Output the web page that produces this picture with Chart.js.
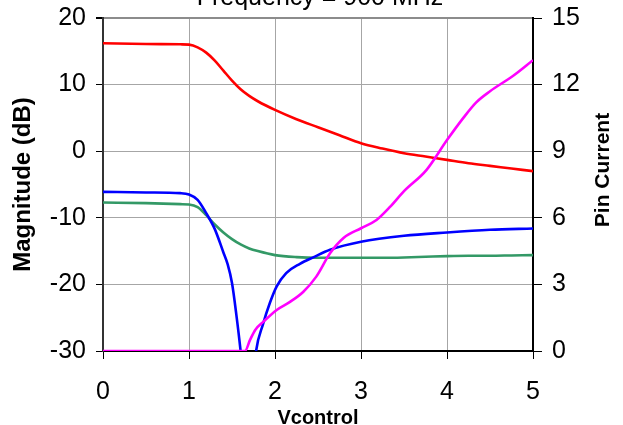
<!DOCTYPE html>
<html>
<head>
<meta charset="utf-8">
<script src="https://cdn.jsdelivr.net/npm/chart.js@4.4.1/dist/chart.umd.min.js"></script>
<style>
  body { margin: 0; background: #fff; }
  #chart { display: block; }
</style>
</head>
<body>
<canvas id="chart" width="623" height="425"></canvas>
<script>
// Vcontrol values (x) for the red and green traces
const vctrl = [0, 0.5, 0.9, 1.0, 1.1, 1.2, 1.3, 1.4, 1.5, 1.6, 1.7, 1.8, 2.0, 2.25, 2.5, 2.75, 3.0, 3.25, 3.5, 3.75, 4.0, 4.25, 4.5, 4.75, 5.0];
const redDb = [16.2, 16.1, 16.05, 16.0, 15.6, 14.8, 13.6, 12.1, 10.6, 9.3, 8.3, 7.5, 6.2, 4.8, 3.6, 2.4, 1.2, 0.4, -0.3, -0.8, -1.3, -1.8, -2.2, -2.6, -3.0];
const greenDb = [-7.7, -7.8, -7.95, -8.0, -8.4, -9.6, -11.0, -12.2, -13.2, -14.0, -14.6, -15.0, -15.6, -15.9, -16.0, -16.0, -16.0, -16.0, -15.95, -15.85, -15.75, -15.7, -15.7, -15.65, -15.6];

// blue trace has a deep null near 1.7 V
const vBlue = [0, 0.5, 0.9, 1.0, 1.1, 1.2, 1.3, 1.4, 1.45, 1.5, 1.55, 1.6, 1.63, 1.75, 1.78, 1.86, 1.94, 2.02, 2.13, 2.29, 2.45, 2.64, 3.0, 3.5, 4.0, 4.5, 5.0];
const blueDb = [-6.1, -6.2, -6.3, -6.5, -7.3, -9.3, -11.7, -15.2, -17.0, -19.8, -24.5, -30, -34, -34, -30, -26, -22.8, -20.3, -18.3, -16.9, -15.9, -14.8, -13.6, -12.7, -12.2, -11.8, -11.6];

// pin current, right axis
const vPin = [0, 1.0, 1.6, 1.65, 1.71, 1.77, 1.86, 2.02, 2.17, 2.33, 2.48, 2.64, 2.8, 3.0, 3.18, 3.34, 3.5, 3.76, 4.0, 4.19, 4.34, 4.5, 4.77, 5.0];
const pinCurrent = [0, 0, 0, 0, 0.5, 0.95, 1.3, 1.85, 2.2, 2.67, 3.35, 4.4, 5.1, 5.53, 5.9, 6.5, 7.2, 8.15, 9.5, 10.5, 11.2, 11.7, 12.4, 13.1];

const titleText = "Frequency = 900 MHz";
const FONT = "'Liberation Sans', Arial, sans-serif";

function pairs(xs, ys) {
    return xs.map((x, i) => ({ x: x, y: ys[i] }));
}

Chart.defaults.font.family = FONT;
Chart.defaults.color = "#000";

// title (cut off at the top edge) and the right axis title, reading upwards
const extraText = {
    id: "extraText",
    afterDraw(chart) {
        const c = chart.ctx;
        c.save();
        c.fillStyle = "#000";
        c.font = "25px " + FONT;
        c.textAlign = "center";
        c.textBaseline = "alphabetic";
        c.fillText(titleText, 320, 5);

        c.font = "bold 21px " + FONT;
        c.textBaseline = "middle";
        c.translate(603, 170);
        c.rotate(-Math.PI / 2);
        c.fillText("Pin Current", 0, 0);
        c.restore();
    }
};

function line(label, data, color, axis) {
    return {
        label: label,
        data: data,
        yAxisID: axis,
        borderColor: color,
        backgroundColor: color,
        borderWidth: 2.6,
        pointRadius: 0,
        cubicInterpolationMode: "monotone",
        fill: false
    };
}

// fixed axis boxes so the plot area lands where the original has it
function fixBox(w, h) {
    return (s) => {
        if (w) s.width = w;
        if (h) s.height = h;
        s.paddingTop = 0;
        s.paddingBottom = 0;
        s.paddingLeft = 0;
        s.paddingRight = 0;
    };
}

new Chart(document.getElementById("chart"), {
    type: "line",
    data: {
        datasets: [
            line("Pin Current", pairs(vPin, pinCurrent), "#ff00ff", "y2"),
            line("Blue", pairs(vBlue, blueDb), "#0000ff", "y"),
            line("Red", pairs(vctrl, redDb), "#ff0000", "y"),
            line("Green", pairs(vctrl, greenDb), "#339966", "y")
        ]
    },
    options: {
        responsive: false,
        animation: false,
        layout: { padding: { top: 18, left: 0, right: 0, bottom: 0 } },
        plugins: {
            legend: { display: false },
            tooltip: { enabled: false }
        },
        scales: {
            x: {
                type: "linear",
                min: 0,
                max: 5,
                ticks: { stepSize: 1, font: { size: 25 }, padding: 18 },
                grid: { color: "#a6a6a6", tickColor: "#000", tickLength: 8, lineWidth: 1 },
                border: { color: "#000", width: 2 },
                title: { display: true, text: "Vcontrol", font: { size: 20, weight: "bold" }, padding: { top: 0, bottom: -5 } },
                afterFit: fixBox(0, 74)
            },
            y: {
                position: "left",
                min: -30,
                max: 20,
                ticks: { stepSize: 10, font: { size: 25 }, padding: 10 },
                grid: {
                    color: (ctx) => ctx.tick && ctx.tick.value === 20 ? "#8c8c8c" : "#a6a6a6",
                    lineWidth: (ctx) => ctx.tick && ctx.tick.value === 20 ? 2 : 1,
                    tickColor: "#000",
                    tickLength: 7
                },
                border: { color: "#333", width: 2 },
                title: { display: true, text: "Magnitude (dB)", font: { size: 24, weight: "bold" }, padding: { top: 9, bottom: 0 } },
                afterFit: fixBox(103, 0)
            },
            y2: {
                position: "right",
                min: 0,
                max: 15,
                ticks: { stepSize: 3, font: { size: 25 }, padding: 10 },
                grid: { drawOnChartArea: false, tickColor: "#000", tickLength: 9 },
                border: { color: "#000", width: 2 },
                afterFit: fixBox(90, 0)
            }
        }
    },
    plugins: [extraText]
});
</script>
</body>
</html>
